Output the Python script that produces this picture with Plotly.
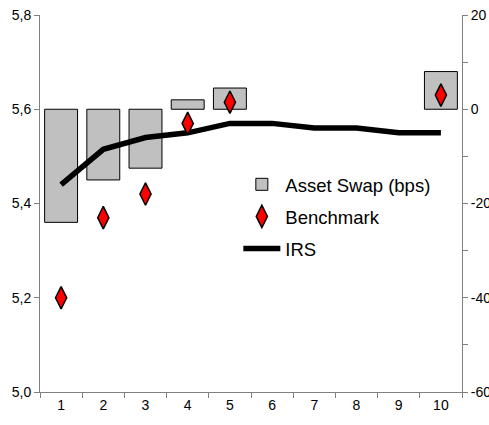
import plotly.graph_objects as go

categories = ["1", "2", "3", "4", "5", "6", "7", "8", "9", "10"]
asset_swap_bps = [-24, -15, -12.5, 2, 4.5, None, None, None, None, 8]
benchmark = [5.20, 5.37, 5.42, 5.57, 5.615, None, None, None, None, 5.63]
irs = [5.44, 5.515, 5.54, 5.55, 5.57, 5.57, 5.56, 5.56, 5.55, 5.55]

left_range = [5.0, 5.8]
right_range = [-60, 20]
right_tickvals = [-60, -40, -20, 0, 20]
right_ticktext = ["-60", "-40", "-20", "0", "20"]

FONT = "Liberation Sans, Arial, sans-serif"
AXIS_COLOR = "#808080"

fig = go.Figure()

fig.add_trace(go.Bar(
    x=categories, y=asset_swap_bps, base=0, name="Asset Swap (bps)",
    marker=dict(color="#C0C0C0", line=dict(color="black", width=1)),
    yaxis="y", legendgroup="a", legendrank=1,
))
fig.add_trace(go.Scatter(
    x=categories, y=irs, name="IRS", mode="lines",
    line=dict(color="black", width=5.5),
    yaxis="y2", legendgroup="c", legendrank=3,
))
fig.add_trace(go.Scatter(
    x=categories, y=benchmark, name="Benchmark", mode="markers",
    marker=dict(symbol="diamond-tall", size=16, color="#FF0000",
                line=dict(color="black", width=1.5)),
    yaxis="y2", legendgroup="b", legendrank=2,
))

fig.update_layout(
    width=489, height=425,
    margin=dict(l=40, r=27, t=15, b=33),
    paper_bgcolor="white", plot_bgcolor="white",
    separators=",.",
    font=dict(family=FONT, size=14, color="black"),
    bargap=0.22,
    showlegend=True,
    legend=dict(
        x=0.47, y=0.60, xanchor="left", yanchor="top",
        font=dict(family=FONT, size=18.5, color="black"),
        bgcolor="rgba(0,0,0,0)", traceorder="grouped", tracegroupgap=5,
        itemwidth=37,
    ),
    xaxis=dict(
        type="category", showline=True, linecolor=AXIS_COLOR, linewidth=1,
        ticks="outside", ticklen=5, tickcolor=AXIS_COLOR, tickson="boundaries",
        showgrid=False, zeroline=False, range=[-0.5, 9.5],
        tickfont=dict(size=14), automargin=False,
    ),
    yaxis=dict(
        side="right", range=right_range, tickvals=right_tickvals,
        ticktext=right_ticktext, showline=True, linecolor=AXIS_COLOR,
        linewidth=1, ticks="outside", ticklen=5, tickcolor=AXIS_COLOR,
        showgrid=False, zeroline=False, automargin=False,
        minor=dict(tickmode="linear", tick0=0, dtick=10, ticks="outside",
                   ticklen=5, tickcolor=AXIS_COLOR, showgrid=False),
        tickfont=dict(size=14),
    ),
    yaxis2=dict(
        side="left", overlaying="y", range=left_range, dtick=0.2,
        tickformat=".1f", showline=True, linecolor=AXIS_COLOR, linewidth=1,
        ticks="outside", ticklen=5, tickcolor=AXIS_COLOR, showgrid=False,
        zeroline=False, tickfont=dict(size=14), automargin=False,
    ),
)

fig.write_html("out.html",
               config={"displayModeBar": False},
               post_script="document.body.style.margin='0';"
                           "document.body.style.overflow='hidden';")
